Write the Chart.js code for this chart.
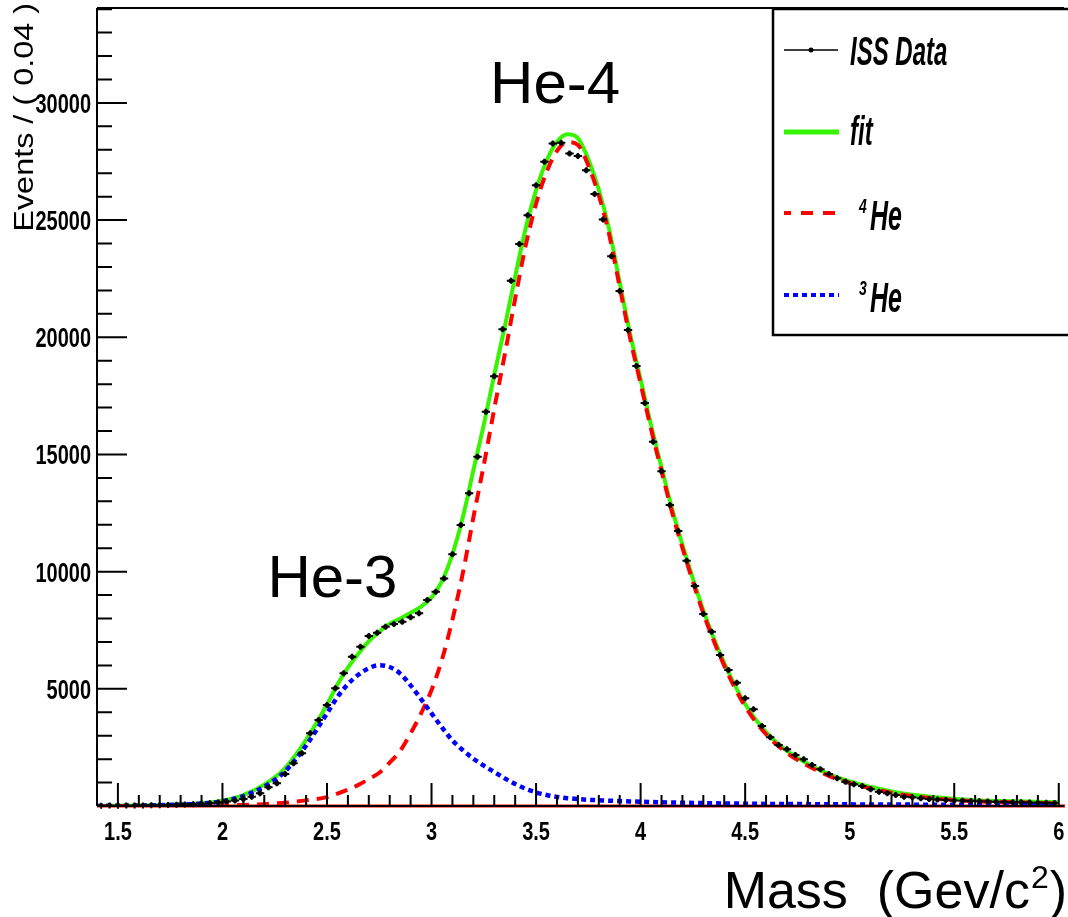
<!DOCTYPE html>
<html>
<head>
<meta charset="utf-8">
<script src="https://cdn.jsdelivr.net/npm/chart.js@4.4.0/dist/chart.umd.min.js"></script>
<style>
  body { margin: 0; background: #fff; }
</style>
</head>
<body>
<canvas id="massChart" width="1068" height="917"></canvas>
<script>
// ISS data, bins of 0.04 Gev/c^2
const massBins = [
  1.42, 1.46, 1.50, 1.54, 1.58, 1.62, 1.66, 1.70, 1.74, 1.78,
  1.82, 1.86, 1.90, 1.94, 1.98, 2.02, 2.06, 2.10, 2.14, 2.18,
  2.22, 2.26, 2.30, 2.34, 2.38, 2.42, 2.46, 2.50, 2.54, 2.58,
  2.62, 2.66, 2.70, 2.74, 2.78, 2.82, 2.86, 2.90, 2.94, 2.98,
  3.02, 3.06, 3.10, 3.14, 3.18, 3.22, 3.26, 3.30, 3.34, 3.38,
  3.42, 3.46, 3.50, 3.54, 3.58, 3.62, 3.66, 3.70, 3.74, 3.78,
  3.82, 3.86, 3.90, 3.94, 3.98, 4.02, 4.06, 4.10, 4.14, 4.18,
  4.22, 4.26, 4.30, 4.34, 4.38, 4.42, 4.46, 4.50, 4.54, 4.58,
  4.62, 4.66, 4.70, 4.74, 4.78, 4.82, 4.86, 4.90, 4.94, 4.98,
  5.02, 5.06, 5.10, 5.14, 5.18, 5.22, 5.26, 5.30, 5.34, 5.38,
  5.42, 5.46, 5.50, 5.54, 5.58, 5.62, 5.66, 5.70, 5.74, 5.78,
  5.82, 5.86, 5.90, 5.94, 5.98
];
const issEvents = [
  15, 20, 10, 20, 25, 20, 30, 35, 40, 50,
  60, 75, 95, 120, 150, 190, 230, 300, 400, 540,
  800, 970, 1365, 1820, 2250, 3100, 3670, 4310, 5020, 5660,
  6370, 6800, 7250, 7390, 7650, 7765, 7860, 8050, 8220, 8790,
  9140, 9710, 10740, 11990, 13340, 14900, 16820, 18340, 20340, 22410,
  23975, 25210, 26490, 27490, 28270, 28300, 27840, 27730, 27130, 26110,
  25030, 23460, 21970, 20310, 18770, 17200, 15540, 14280, 12840, 11730,
  10465, 9390, 8190, 7435, 6440, 5800, 5260, 4595, 4125, 3413,
  2930, 2600, 2420, 2175, 1990, 1750, 1565, 1365, 1180, 1035,
  930, 850, 710, 610, 540, 470, 400, 370, 330, 300,
  280, 260, 240, 225, 210, 200, 190, 180, 170, 165,
  155, 150, 140, 135, 130
];

// fit curves
const curveMass = [
  1.40, 1.60, 1.80, 1.90, 2.00, 2.10, 2.20, 2.30, 2.40, 2.50,
  2.55, 2.60, 2.65, 2.70, 2.75, 2.80, 2.85, 2.90, 2.95, 3.00,
  3.05, 3.10, 3.15, 3.20, 3.25, 3.30, 3.35, 3.40, 3.45, 3.50,
  3.55, 3.60, 3.65, 3.70, 3.75, 3.80, 3.85, 3.90, 3.95, 4.00,
  4.05, 4.10, 4.15, 4.20, 4.30, 4.40, 4.50, 4.60, 4.70, 4.80,
  4.90, 5.00, 5.20, 5.40, 5.60, 5.80, 6.00
];
const fitTotal = [
  5, 22, 68, 120, 225, 465, 910, 1620, 2820, 4330,
  5180, 5900, 6500, 7030, 7430, 7780, 8000, 8250, 8510, 8900,
  9600, 10750, 12330, 14320, 16270, 18400, 20430, 22590, 24640, 26280,
  27520, 28340, 28665, 28495, 27595, 26295, 24595, 22350, 20145, 18200,
  16250, 14450, 12700, 11150, 8350, 6100, 4350, 3150, 2350, 1800,
  1360, 1050, 622, 380, 250, 200, 155
];
const fitHe4 = [
  0, 2, 8, 15, 25, 45, 80, 140, 240, 380,
  530, 700, 900, 1150, 1420, 1850, 2350, 3100, 3950, 4950,
  6250, 7950, 9950, 12300, 14550, 16950, 19250, 21650, 23900, 25700,
  27050, 27950, 28330, 28200, 27330, 26050, 24370, 22140, 19950, 18020,
  16080, 14290, 12550, 11010, 8225, 5990, 4250, 3060, 2265, 1720,
  1285, 980, 560, 325, 200, 155, 115
];
const fitHe3 = [
  5, 20, 60, 105, 200, 420, 830, 1480, 2580, 3950,
  4650, 5200, 5600, 5880, 6010, 5930, 5650, 5150, 4560, 3950,
  3350, 2800, 2380, 2020, 1720, 1450, 1180, 940, 740, 580,
  470, 390, 335, 295, 265, 245, 225, 210, 195, 180,
  170, 160, 150, 140, 125, 110, 100, 90, 85, 80,
  75, 70, 62, 55, 50, 45, 40
];
const flatMass = [1.40, 6.03];
const flatEvents = [0, 0];

const massTicks = [1.5, 2, 2.5, 3, 3.5, 4, 4.5, 5, 5.5, 6];
const eventTicks = [5000, 10000, 15000, 20000, 25000, 30000];

const binHalfWidth = 0.02;
const GREEN = 'rgb(55, 245, 0)';
const RED = 'rgb(255, 0, 0)';
const BLUE = 'rgb(0, 0, 255)';
const LABEL_FONT = 'bold 20px "Liberation Sans", Arial, sans-serif';

function toPoints(xs, ys) {
  return xs.map((v, i) => ({x: v, y: ys[i]}));
}

function stretchText(ctx, text, x, y, sy) {
  ctx.save();
  ctx.translate(x, y);
  ctx.scale(1, sy);
  ctx.fillText(text, 0, 0);
  ctx.restore();
}

const rootStyle = {
  id: 'rootStyle',
  afterDatasetsDraw(chart) {
    const ctx = chart.ctx;
    const a = chart.chartArea;
    const xs = chart.scales.x, ys = chart.scales.y;

    // error bars on the data points
    ctx.save();
    ctx.strokeStyle = '#000';
    ctx.lineWidth = 2;
    chart.getDatasetMeta(0).data.forEach((pt, i) => {
      const x0 = xs.getPixelForValue(massBins[i] - binHalfWidth);
      const x1 = xs.getPixelForValue(massBins[i] + binHalfWidth);
      ctx.beginPath();
      ctx.moveTo(x0, pt.y); ctx.lineTo(x1, pt.y);
      ctx.moveTo(pt.x, pt.y - 3); ctx.lineTo(pt.x, pt.y + 3);
      ctx.stroke();
    });

    // frame
    ctx.lineWidth = 2;
    ctx.beginPath();
    ctx.moveTo(a.left, a.top); ctx.lineTo(a.right, a.top);
    ctx.moveTo(a.left, a.top); ctx.lineTo(a.left, a.bottom);
    ctx.moveTo(a.left, a.bottom); ctx.lineTo(a.right, a.bottom);
    ctx.stroke();

    // inward ticks, major + minor
    ctx.beginPath();
    for (let k = 14; k <= 60; k++) {
      const px = xs.getPixelForValue(k / 10);
      const len = k % 5 === 0 ? 23 : 11;
      ctx.moveTo(px, a.bottom); ctx.lineTo(px, a.bottom - len);
    }
    for (let k = 1; k <= 34; k++) {
      const py = ys.getPixelForValue(k * 1000);
      const len = k % 5 === 0 ? 30 : 15;
      ctx.moveTo(a.left, py); ctx.lineTo(a.left + len, py);
    }
    ctx.stroke();

    // tick labels, tall and narrow like the original
    ctx.fillStyle = '#000';
    ctx.font = LABEL_FONT;
    ctx.textBaseline = 'alphabetic';
    ctx.textAlign = 'center';
    massTicks.forEach(v => {
      stretchText(ctx, String(v), xs.getPixelForValue(v), a.bottom + 34, 1.25);
    });
    ctx.textAlign = 'right';
    eventTicks.forEach(v => {
      stretchText(ctx, String(v), a.left - 6, ys.getPixelForValue(v) + 10, 1.4);
    });
    ctx.restore();
  },
  afterDraw(chart) {
    const ctx = chart.ctx;
    const xs = chart.scales.x, ys = chart.scales.y;
    ctx.save();
    ctx.fillStyle = '#000';
    ctx.textBaseline = 'alphabetic';

    // peak labels
    ctx.font = '60px "Liberation Sans", Arial, sans-serif';
    ctx.textAlign = 'left';
    ctx.fillText('He-4', xs.getPixelForValue(3.28), ys.getPixelForValue(30000));
    ctx.fillText('He-3', xs.getPixelForValue(2.215), ys.getPixelForValue(8900));

    // y title
    ctx.save();
    ctx.translate(33, 3);
    ctx.rotate(-Math.PI / 2);
    ctx.scale(1.2, 1);
    ctx.textAlign = 'right';
    ctx.font = '27px "Liberation Sans", Arial, sans-serif';
    ctx.fillText('Events / ( 0.04 )', 0, 0);
    ctx.restore();

    // x title with superscript
    const big = '52px "Liberation Sans", Arial, sans-serif';
    const small = '32px "Liberation Sans", Arial, sans-serif';
    ctx.font = big;
    const wMain = ctx.measureText('Mass  (Gev/c').width;
    const wClose = ctx.measureText(')').width;
    ctx.font = small;
    const wSup = ctx.measureText('2').width;
    let tx = 1067 - wMain - wSup - wClose - 2;
    ctx.font = big;
    ctx.fillText('Mass  (Gev/c', tx, 908);
    tx += wMain + 1;
    ctx.font = small;
    ctx.fillText('2', tx, 888);
    tx += wSup + 1;
    ctx.font = big;
    ctx.fillText(')', tx, 908);

    // legend box
    ctx.fillStyle = '#fff';
    ctx.fillRect(773, 9, 300, 326);
    ctx.strokeStyle = '#000';
    ctx.lineWidth = 2.5;
    ctx.strokeRect(773, 9, 300, 326);

    ctx.lineWidth = 1.5;
    ctx.beginPath(); ctx.moveTo(784, 50); ctx.lineTo(838, 50); ctx.stroke();
    ctx.fillStyle = '#000';
    ctx.beginPath(); ctx.arc(811, 50, 2.5, 0, Math.PI * 2); ctx.fill();

    ctx.strokeStyle = GREEN; ctx.lineWidth = 5;
    ctx.beginPath(); ctx.moveTo(784, 132); ctx.lineTo(839, 132); ctx.stroke();

    ctx.strokeStyle = RED; ctx.lineWidth = 4; ctx.setLineDash([12, 10]); ctx.lineDashOffset = 5;
    ctx.beginPath(); ctx.moveTo(784, 213); ctx.lineTo(839, 213); ctx.stroke();

    ctx.strokeStyle = BLUE; ctx.lineWidth = 4; ctx.setLineDash([5, 4]); ctx.lineDashOffset = 0;
    ctx.beginPath(); ctx.moveTo(784, 295); ctx.lineTo(839, 295); ctx.stroke();
    ctx.setLineDash([]);

    ctx.fillStyle = '#000';
    ctx.font = 'italic bold 24px "Liberation Sans", Arial, sans-serif';
    stretchText(ctx, 'ISS Data', 850, 65, 1.7);
    stretchText(ctx, 'fit', 850, 145, 1.7);
    ctx.font = 'italic bold 25px "Liberation Sans", Arial, sans-serif';
    stretchText(ctx, 'He', 870, 230, 1.7);
    stretchText(ctx, 'He', 870, 312, 1.7);
    ctx.font = 'italic bold 14px "Liberation Sans", Arial, sans-serif';
    stretchText(ctx, '4', 859, 213, 1.5);
    stretchText(ctx, '3', 859, 295, 1.5);
    ctx.restore();
  }
};

new Chart(document.getElementById('massChart'), {
  type: 'line',
  data: {
    datasets: [
      {
        label: 'ISS Data',
        data: toPoints(massBins, issEvents),
        showLine: false,
        pointRadius: 2.5,
        pointBackgroundColor: '#000',
        pointBorderWidth: 0
      },
      {
        label: '3He',
        data: toPoints(curveMass, fitHe3),
        borderColor: BLUE,
        borderWidth: 4.5,
        borderDash: [5, 4],
        pointRadius: 0,
        cubicInterpolationMode: 'monotone'
      },
      {
        label: '4He',
        data: toPoints(curveMass, fitHe4),
        borderColor: RED,
        borderWidth: 4,
        borderDash: [12, 8],
        pointRadius: 0,
        cubicInterpolationMode: 'monotone'
      },
      {
        label: 'fit',
        data: toPoints(curveMass, fitTotal),
        borderColor: GREEN,
        borderWidth: 4,
        pointRadius: 0,
        cubicInterpolationMode: 'monotone'
      },
      {
        label: 'flat',
        data: toPoints(flatMass, flatEvents),
        borderColor: RED,
        borderWidth: 3,
        pointRadius: 0,
        clip: false
      }
    ]
  },
  options: {
    responsive: false,
    animation: false,
    layout: {padding: {top: 8, right: 0, left: 0, bottom: 0}},
    plugins: {legend: {display: false}, tooltip: {enabled: false}},
    scales: {
      x: {
        type: 'linear',
        min: 1.4,
        max: 6.025,
        grid: {display: false},
        border: {display: false},
        afterBuildTicks: (scale) => { scale.ticks = massTicks.map(v => ({value: v})); },
        afterFit: (scale) => { scale.height = 111; scale.paddingLeft = 0; scale.paddingRight = 0; },
        ticks: {display: false}
      },
      y: {
        min: 0,
        max: 34050,
        grid: {display: false},
        border: {display: false},
        afterBuildTicks: (scale) => { scale.ticks = eventTicks.map(v => ({value: v})); },
        afterFit: (scale) => { scale.width = 97; scale.paddingTop = 0; scale.paddingBottom = 0; },
        ticks: {display: false}
      }
    }
  },
  plugins: [rootStyle]
});
</script>
</body>
</html>
